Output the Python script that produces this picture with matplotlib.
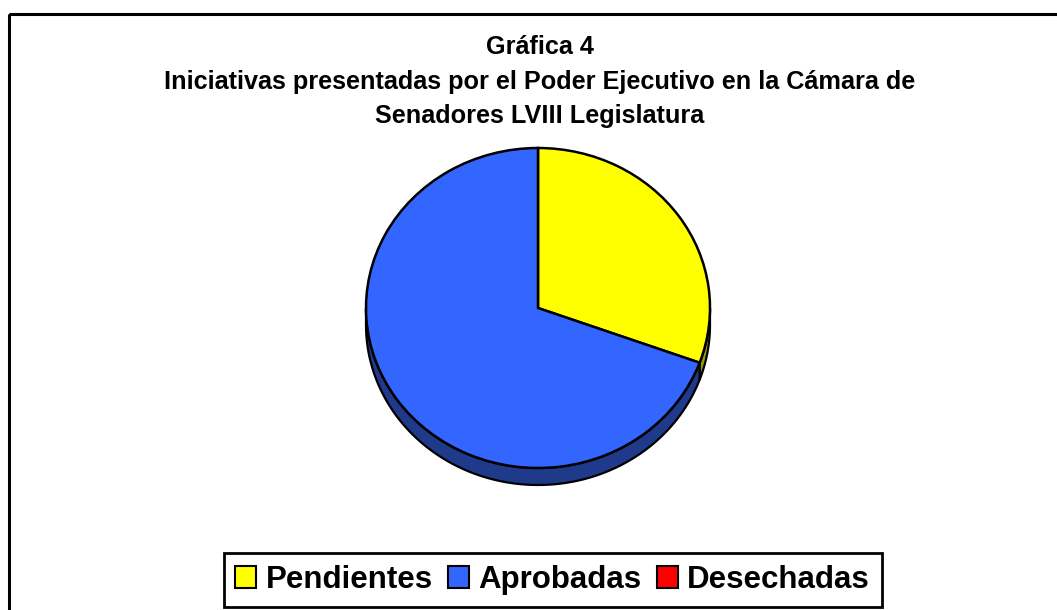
import numpy as np
import matplotlib.pyplot as plt
from matplotlib.patches import Wedge, Polygon, Rectangle, Patch
from matplotlib.transforms import Affine2D

plt.rcParams['font.family'] = ['Liberation Sans', 'DejaVu Sans']

# Data
categories = ["Pendientes", "Aprobadas", "Desechadas"]
values = [11, 25, 0]
title_lines = ["Gráfica 4",
               "Iniciativas presentadas por el Poder Ejecutivo en la Cámara de",
               "Senadores LVIII Legislatura"]

top_colors = ["#FFFF00", "#3366FF", "#FF0000"]
side_colors = ["#99990F", "#1F3A8A", "#8C0000"]

W, H = 1057, 610
fig = plt.figure(figsize=(W / 100, H / 100), dpi=100)
ax = fig.add_axes([0, 0, 1, 1])
ax.set_xlim(0, W)
ax.set_ylim(H, 0)
ax.axis('off')

# Outer chart frame
ax.add_patch(Rectangle((9, 14), 1200, 800, fill=False, edgecolor='black', lw=2.2))

# Title
for text, y in zip(title_lines, [47, 82, 116]):
    ax.text(540, y, text, ha='center', va='center', fontsize=18.2,
            fontweight='bold', color='black')

# Tilted pie geometry
cx, cy, rx, ry, depth = 538, 308, 172, 160, 17
to_screen = Affine2D().scale(rx, -ry).translate(cx, cy) + ax.transData

total = float(sum(values))
spans = []
start = 90.0
for v in values:
    sweep = 360.0 * v / total
    spans.append((start - sweep, start))
    start -= sweep


def ellipse_pts(a, b, dy=0.0, n=120):
    t = np.radians(np.linspace(a, b, n))
    return np.column_stack([cx + rx * np.cos(t), cy - ry * np.sin(t) + dy])


# Visible side walls (front half: 180..360 degrees)
for (t1, t2), sc, v in zip(spans, side_colors, values):
    if v <= 0:
        continue
    for k in (-360, 0, 360):
        a = max(t1 + k, 180.0)
        b = min(t2 + k, 360.0)
        if b - a <= 0:
            continue
        pts = np.vstack([ellipse_pts(a, b), ellipse_pts(b, a, depth)])
        ax.add_patch(Polygon(pts, closed=True, facecolor=sc,
                             edgecolor='black', lw=1.6, joinstyle='round'))

# Top face
for (t1, t2), c, v in zip(spans, top_colors, values):
    if v <= 0:
        continue
    ax.add_patch(Wedge((0, 0), 1, t1, t2, facecolor=c, edgecolor='black',
                       lw=1.8, transform=to_screen))

# Legend
handles = [Patch(facecolor=c, edgecolor='black', lw=1.5) for c in top_colors]
leg = fig.legend(handles, categories, loc='center',
                 bbox_to_anchor=(552.5 / W, 1 - 580 / H), ncol=3,
                 prop={'family': 'Liberation Sans', 'weight': 'bold', 'size': 22.5},
                 frameon=True, fancybox=False, edgecolor='black', framealpha=1,
                 handlelength=0.67, handleheight=0.67, handletextpad=0.29,
                 columnspacing=0.5, borderpad=0.38, borderaxespad=0)
leg.get_frame().set_linewidth(2.0)

fig.savefig('out.png', dpi=100, facecolor='white')
